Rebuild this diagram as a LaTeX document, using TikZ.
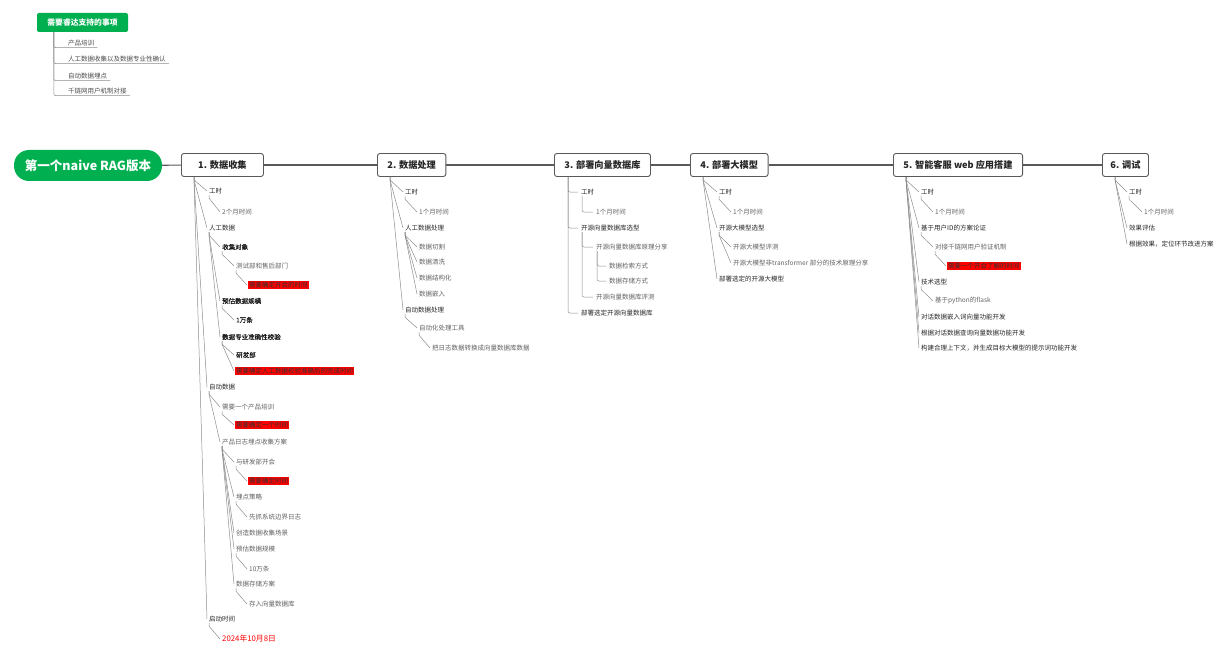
\documentclass[tikz,border=0pt]{standalone}
\usepackage{fontspec}
\setmainfont{Noto Sans CJK SC}
\newfontfamily\halfbold[FakeBold=0.6]{Noto Sans CJK SC}
\usepackage{xcolor}
\usetikzlibrary{positioning,calc}
\definecolor{rdgreen}{RGB}{0,176,80}
\definecolor{rdred}{RGB}{255,0,0}

\begin{document}
\begin{tikzpicture}[x=1pt,y=-1pt,
    root/.style={fill=rdgreen, rounded corners=15pt, minimum width=148pt, minimum height=31pt, text=white, font=\fontsize{12.5}{14}\selectfont\bfseries},
    legend/.style={fill=rdgreen, rounded corners=2pt, minimum width=91pt, minimum height=19pt, text=white, font=\fontsize{7.8}{9}\selectfont\bfseries},
    stage/.style={draw=black!65, line width=0.9pt, fill=white, rounded corners=2.5pt, minimum height=23pt, inner xsep=10pt, anchor=west, text=black!85, font=\fontsize{9.2}{11}\selectfont\bfseries},
    leaf/.style={anchor=west, inner sep=1pt, text=black!62, font=\fontsize{6.5}{8}\selectfont},
    branch/.style={leaf, text=black!85},
    strong/.style={leaf, text=black!90, font=\fontsize{6.5}{8}\selectfont\halfbold},
    todo/.style={leaf, fill=rdred, text=black!80},
    datum/.style={leaf, text=rdred, font=\fontsize{7.8}{9}\selectfont},
    need/.style={anchor=west, inner xsep=3pt, inner ysep=1.5pt, text=black!70, font=\fontsize{6.5}{8}\selectfont},
    trunk/.style={draw=black!65, line width=1.1pt},
    link/.style={draw=black!45, line width=0.5pt, to path={-- ++(0,3) -- (\tikztotarget)}},
    elbow/.style={draw=black!45, line width=0.5pt, rounded corners=2pt}
  ]
  \useasboundingbox (0,0) rectangle (1232,658);

  % legend
  \node[legend] (leg) at (82.5,22.5) {需要睿达支持的事项};
  \node[need] (l1) at (65,43) {产品培训};
  \node[need] (l2) at (65,59) {人工数据收集以及数据专业性确认};
  \node[need] (l3) at (65,76) {自动数据埋点};
  \node[need] (l4) at (65,91) {千链网用户机制对接};
  \draw[elbow] ([xshift=17pt]leg.south west) |- (l1.south east);
  \draw[elbow] ([xshift=17pt]leg.south west) |- (l2.south east);
  \draw[elbow] ([xshift=17pt]leg.south west) |- (l3.south east);
  \draw[elbow] ([xshift=17pt]leg.south west) |- (l4.south east);

  % main line
  \node[root] (rt) at (88,165.5) {第一个naive RAG版本};
  \node[stage, minimum width=82pt] (n1) at (181,165) {1. 数据收集};
  \node[stage] (n2) at (377,165) {2. 数据处理};
  \node[stage] (n3) at (554,165) {3. 部署向量数据库};
  \node[stage] (n4) at (690,165) {4. 部署大模型};
  \node[stage] (n5) at (893,165) {5. 智能客服 web 应用搭建};
  \node[stage, inner xsep=8pt] (n6) at (1102,165) {6. 调试};
  \draw[trunk] (rt) -- (n1);
  \draw[trunk] (n1) -- (n2);
  \draw[trunk] (n2) -- (n3);
  \draw[trunk] (n3) -- (n4);
  \draw[trunk] (n4) -- (n5);
  \draw[trunk] (n5) -- (n6);

  % 1. 数据收集
  \node[branch] (a1) at (208,191) {工时};
  \node[leaf] (a11) at (221,212) {2个月时间};
  \node[branch] (a2) at (208,228) {人工数据};
  \node[strong] (a21) at (221,247) {收集对象};
  \node[leaf] (a211) at (235,266) {测试部和售后部门};
  \node[todo] (a2111) at (248,285) {需要确定开会的时间};
  \node[strong] (a22) at (221,301) {预估数据规模};
  \node[strong] (a221) at (235,320) {1万条};
  \node[strong] (a23) at (221,337) {数据专业准确性校验};
  \node[strong] (a231) at (235,355) {研发部};
  \node[todo] (a232) at (235,371) {需要确定人工数据校验准确后的完成时间};
  \node[branch] (a3) at (208,387) {自动数据};
  \node[leaf] (a31) at (221,407) {需要一个产品培训};
  \node[todo] (a311) at (235,425) {需要确定一个时间};
  \node[leaf] (a32) at (221,442) {产品日志埋点收集方案};
  \node[leaf] (a321) at (235,462) {与研发部开会};
  \node[todo] (a3211) at (248,481) {需要确定时间};
  \node[leaf] (a322) at (235,497) {埋点策略};
  \node[leaf] (a3221) at (248,517) {先抓系统边界日志};
  \node[leaf] (a323) at (235,533) {创造数据收集场景};
  \node[leaf] (a324) at (235,549) {预估数据规模};
  \node[leaf] (a3241) at (248,569) {10万条};
  \node[leaf] (a325) at (235,584) {数据存储方案};
  \node[leaf] (a3251) at (248,604) {存入向量数据库};
  \node[branch] (a4) at (208,619) {启动时间};
  \node[datum] (a41) at (221,639) {2024年10月8日};

  \draw[link] ([xshift=13pt]n1.south west) to ([xshift=-1pt]a1.west);
  \draw[link] ([xshift=13pt]n1.south west) to ([xshift=-1pt]a2.west);
  \draw[link] ([xshift=13pt]n1.south west) to ([xshift=-1pt]a3.west);
  \draw[link] ([xshift=13pt]n1.south west) to ([xshift=-1pt]a4.west);
  \draw[link] ([xshift=1pt]a1.south west) to ([xshift=-1pt]a11.west);
  \draw[link] ([xshift=1pt]a2.south west) to ([xshift=-1pt]a21.west);
  \draw[link] ([xshift=1pt]a2.south west) to ([xshift=-1pt]a22.west);
  \draw[link] ([xshift=1pt]a2.south west) to ([xshift=-1pt]a23.west);
  \draw[link] ([xshift=1pt]a21.south west) to ([xshift=-1pt]a211.west);
  \draw[link] ([xshift=1pt]a211.south west) to ([xshift=-1pt]a2111.west);
  \draw[link] ([xshift=1pt]a22.south west) to ([xshift=-1pt]a221.west);
  \draw[link] ([xshift=1pt]a23.south west) to ([xshift=-1pt]a231.west);
  \draw[link] ([xshift=1pt]a23.south west) to ([xshift=-1pt]a232.west);
  \draw[link] ([xshift=1pt]a3.south west) to ([xshift=-1pt]a31.west);
  \draw[link] ([xshift=1pt]a3.south west) to ([xshift=-1pt]a32.west);
  \draw[link] ([xshift=1pt]a31.south west) to ([xshift=-1pt]a311.west);
  \draw[link] ([xshift=1pt]a32.south west) to ([xshift=-1pt]a321.west);
  \draw[link] ([xshift=1pt]a32.south west) to ([xshift=-1pt]a322.west);
  \draw[link] ([xshift=1pt]a32.south west) to ([xshift=-1pt]a323.west);
  \draw[link] ([xshift=1pt]a32.south west) to ([xshift=-1pt]a324.west);
  \draw[link] ([xshift=1pt]a32.south west) to ([xshift=-1pt]a325.west);
  \draw[link] ([xshift=1pt]a321.south west) to ([xshift=-1pt]a3211.west);
  \draw[link] ([xshift=1pt]a322.south west) to ([xshift=-1pt]a3221.west);
  \draw[link] ([xshift=1pt]a324.south west) to ([xshift=-1pt]a3241.west);
  \draw[link] ([xshift=1pt]a325.south west) to ([xshift=-1pt]a3251.west);
  \draw[link] ([xshift=1pt]a4.south west) to ([xshift=-1pt]a41.west);

  % 2. 数据处理
  \node[branch] (b1) at (404,192) {工时};
  \node[leaf] (b11) at (418,212) {1个月时间};
  \node[branch] (b2) at (404,228) {人工数据处理};
  \node[leaf] (b21) at (418,247) {数据切割};
  \node[leaf] (b22) at (418,262) {数据清洗};
  \node[leaf] (b23) at (418,278) {数据结构化};
  \node[leaf] (b24) at (418,294) {数据嵌入};
  \node[branch] (b3) at (404,310) {自动数据处理};
  \node[leaf] (b31) at (418,328) {自动化处理工具};
  \node[leaf] (b311) at (431,348) {把日志数据转换成向量数据库数据};

  \draw[link] ([xshift=13pt]n2.south west) to ([xshift=-1pt]b1.west);
  \draw[link] ([xshift=13pt]n2.south west) to ([xshift=-1pt]b2.west);
  \draw[link] ([xshift=13pt]n2.south west) to ([xshift=-1pt]b3.west);
  \draw[link] ([xshift=1pt]b1.south west) to ([xshift=-1pt]b11.west);
  \draw[link] ([xshift=1pt]b2.south west) to ([xshift=-1pt]b21.west);
  \draw[link] ([xshift=1pt]b2.south west) to ([xshift=-1pt]b22.west);
  \draw[link] ([xshift=1pt]b2.south west) to ([xshift=-1pt]b23.west);
  \draw[link] ([xshift=1pt]b2.south west) to ([xshift=-1pt]b24.west);
  \draw[link] ([xshift=1pt]b3.south west) to ([xshift=-1pt]b31.west);
  \draw[link] ([xshift=1pt]b31.south west) to ([xshift=-1pt]b311.west);

  % 3. 部署向量数据库
  \node[branch] (c1) at (580,192) {工时};
  \node[leaf] (c11) at (595,212) {1个月时间};
  \node[branch] (c2) at (580,228) {开源向量数据库选型};
  \node[leaf] (c21) at (595,247) {开源向量数据库原理分享};
  \node[leaf] (c211) at (608,266) {数据检索方式};
  \node[leaf] (c212) at (608,281) {数据存储方式};
  \node[leaf] (c22) at (595,297) {开源向量数据库评测};
  \node[branch] (c3) at (580,313) {部署选定开源向量数据库};

  \draw[elbow] ([xshift=14pt]n3.south west) |- ([xshift=-2pt]c1.west);
  \draw[elbow] ([xshift=14pt]n3.south west) |- ([xshift=-2pt]c2.west);
  \draw[elbow] ([xshift=14pt]n3.south west) |- ([xshift=-2pt]c3.west);
  \draw[elbow] ([xshift=2pt]c1.south west) |- ([xshift=-2pt]c11.west);
  \draw[elbow] ([xshift=2pt]c2.south west) |- ([xshift=-2pt]c21.west);
  \draw[elbow] ([xshift=2pt]c2.south west) |- ([xshift=-2pt]c22.west);
  \draw[elbow] ([xshift=2pt]c21.south west) |- ([xshift=-2pt]c211.west);
  \draw[elbow] ([xshift=2pt]c21.south west) |- ([xshift=-2pt]c212.west);

  % 4. 部署大模型
  \node[branch] (d1) at (718,192) {工时};
  \node[leaf] (d11) at (732,212) {1个月时间};
  \node[branch] (d2) at (718,228) {开源大模型选型};
  \node[leaf] (d21) at (732,247) {开源大模型评测};
  \node[leaf] (d22) at (732,263) {开源大模型非transformer 部分的技术原理分享};
  \node[branch] (d3) at (718,279) {部署选定的开源大模型};

  \draw[link] ([xshift=13pt]n4.south west) to ([xshift=-1pt]d1.west);
  \draw[link] ([xshift=13pt]n4.south west) to ([xshift=-1pt]d2.west);
  \draw[link] ([xshift=13pt]n4.south west) to ([xshift=-1pt]d3.west);
  \draw[link] ([xshift=1pt]d1.south west) to ([xshift=-1pt]d11.west);
  \draw[link] ([xshift=1pt]d2.south west) to ([xshift=-1pt]d21.west);
  \draw[link] ([xshift=1pt]d2.south west) to ([xshift=-1pt]d22.west);

  % 5. 智能客服 web 应用搭建
  \node[branch] (e1) at (920,192) {工时};
  \node[leaf] (e11) at (934,212) {1个月时间};
  \node[branch] (e2) at (920,228) {基于用户ID的方案论证};
  \node[leaf] (e21) at (934,247) {对接千链网用户验证机制};
  \node[todo] (e211) at (947,266) {需要一个开会了解的时间};
  \node[branch] (e3) at (920,282) {技术选型};
  \node[leaf] (e31) at (934,301) {基于python的flask};
  \node[branch] (e4) at (920,317) {对话数据嵌入词向量功能开发};
  \node[branch] (e5) at (920,333) {根据对话数据查询向量数据功能开发};
  \node[branch] (e6) at (920,348) {构建合理上下文，并生成目标大模型的提示词功能开发};

  \draw[link] ([xshift=13pt]n5.south west) to ([xshift=-1pt]e1.west);
  \draw[link] ([xshift=13pt]n5.south west) to ([xshift=-1pt]e2.west);
  \draw[link] ([xshift=13pt]n5.south west) to ([xshift=-1pt]e3.west);
  \draw[link] ([xshift=13pt]n5.south west) to ([xshift=-1pt]e4.west);
  \draw[link] ([xshift=13pt]n5.south west) to ([xshift=-1pt]e5.west);
  \draw[link] ([xshift=13pt]n5.south west) to ([xshift=-1pt]e6.west);
  \draw[link] ([xshift=1pt]e1.south west) to ([xshift=-1pt]e11.west);
  \draw[link] ([xshift=1pt]e2.south west) to ([xshift=-1pt]e21.west);
  \draw[link] ([xshift=1pt]e21.south west) to ([xshift=-1pt]e211.west);
  \draw[link] ([xshift=1pt]e3.south west) to ([xshift=-1pt]e31.west);

  % 6. 调试
  \node[branch] (f1) at (1128,192) {工时};
  \node[leaf] (f11) at (1143,212) {1个月时间};
  \node[branch] (f2) at (1128,228) {效果评估};
  \node[branch] (f3) at (1128,244) {根据效果，定位环节改进方案};

  \draw[link] ([xshift=13pt]n6.south west) to ([xshift=-1pt]f1.west);
  \draw[link] ([xshift=13pt]n6.south west) to ([xshift=-1pt]f2.west);
  \draw[link] ([xshift=13pt]n6.south west) to ([xshift=-1pt]f3.west);
  \draw[link] ([xshift=1pt]f1.south west) to ([xshift=-1pt]f11.west);
\end{tikzpicture}
\end{document}
